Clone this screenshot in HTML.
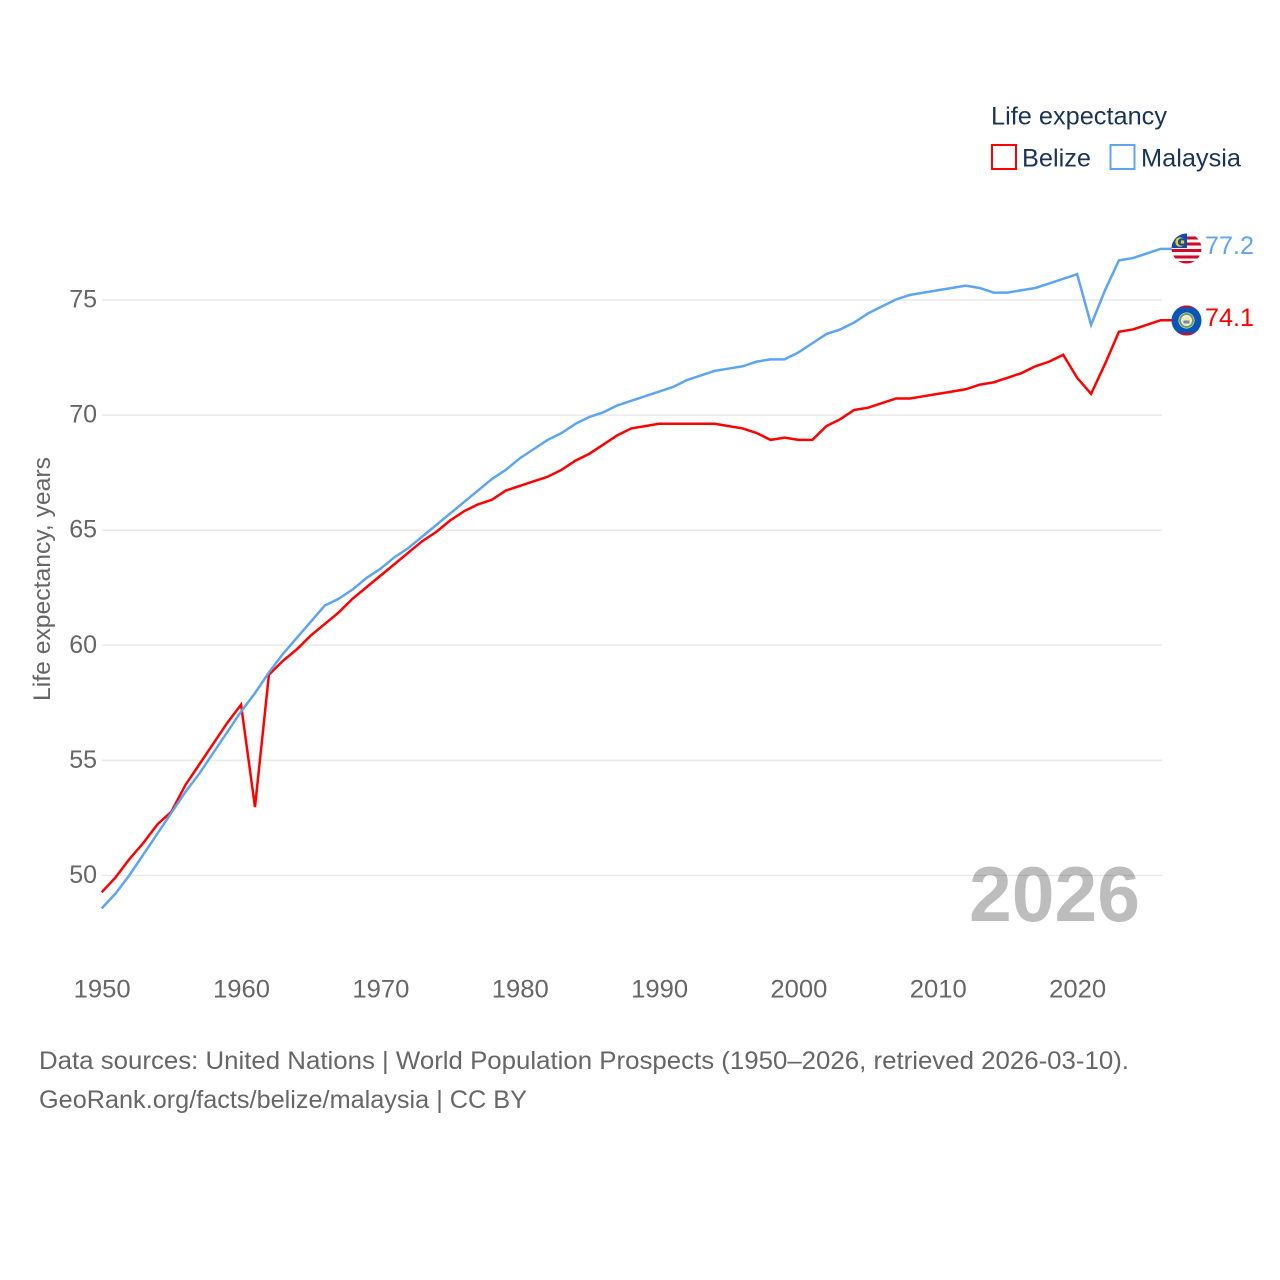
<!DOCTYPE html>
<html>
<head>
<meta charset="utf-8">
<title>Life expectancy: Belize and Malaysia</title>
<style>
html,body{margin:0;padding:0;background:#fff;width:1280px;height:1280px;overflow:hidden}
svg{display:block}
text{font-family:"Liberation Sans",sans-serif}
</style>
</head>
<body>
<svg id="chart" xmlns="http://www.w3.org/2000/svg" width="1280" height="1280" viewBox="0 0 1280 1280">
  <defs>
    <clipPath id="clip-my"><circle cx="1186.500" cy="248.500" r="15"/></clipPath>
    <clipPath id="clip-bz"><circle cx="1186.500" cy="320.500" r="15"/></clipPath>
  </defs>
  <g id="grid"></g>
  <g id="yticks"></g>
  <g id="xticks"></g>
  <text transform="translate(50,701) rotate(-90)" font-size="24" fill="#666666" textLength="244" lengthAdjust="spacingAndGlyphs">Life expectancy, years</text>
  <text x="969" y="921" font-size="78" font-weight="700" fill="#000000" fill-opacity="0.26" textLength="171" lengthAdjust="spacingAndGlyphs">2026</text>
  <g id="series"></g>

  <g>
    <text x="991" y="124.500" font-size="25" fill="#1a3358" textLength="176" lengthAdjust="spacingAndGlyphs">Life expectancy</text>
    <rect x="992" y="145" width="24" height="24" fill="none" stroke="#ff0000" stroke-width="2"/>
    <text x="1022" y="166.500" font-size="25" fill="#1a3358" textLength="69" lengthAdjust="spacingAndGlyphs">Belize</text>
    <rect x="1110.500" y="145" width="24" height="24" fill="none" stroke="#5da5f0" stroke-width="2"/>
    <text x="1141" y="166.500" font-size="25" fill="#1a3358" textLength="100" lengthAdjust="spacingAndGlyphs">Malaysia</text>
  </g>

  <g clip-path="url(#clip-my)">
    <rect x="1171" y="233" width="31" height="31" fill="#f4f4f4"/>
    <rect x="1171" y="236.500" width="31" height="3" fill="#cc0a2c"/>
    <rect x="1171" y="242.500" width="31" height="3" fill="#cc0a2c"/>
    <rect x="1171" y="249" width="31" height="3" fill="#cc0a2c"/>
    <rect x="1171" y="255.500" width="31" height="3" fill="#cc0a2c"/>
    <rect x="1171" y="261" width="31" height="4" fill="#cc0a2c"/>
    <rect x="1171" y="233" width="16" height="15" fill="#0d4ea6"/>
    <circle cx="1180" cy="242" r="4.700" fill="#f7c82c"/>
    <circle cx="1181.500" cy="242" r="3.700" fill="#0d4ea6"/>
    <circle cx="1182.500" cy="242" r="1.800" fill="#f7c82c"/>
  </g>
  <g clip-path="url(#clip-bz)">
    <rect x="1171" y="305" width="31" height="31" fill="#0b55b5"/>
    <rect x="1171" y="305" width="31" height="2.500" fill="#c8102e"/>
    <rect x="1171" y="333" width="31" height="3" fill="#c8102e"/>
    <circle cx="1186.500" cy="320.500" r="8" fill="#e8efe4"/>
    <circle cx="1186.500" cy="320.500" r="6.500" fill="none" stroke="#6fa05a" stroke-width="2"/>
    <circle cx="1186.500" cy="320.500" r="3.600" fill="#f0e6b0"/>
    <rect x="1183.500" y="320.500" width="6" height="3" fill="#7a8a9a"/>
  </g>

  <text x="1205" y="254" font-size="25" fill="#5da5f0" textLength="49" lengthAdjust="spacingAndGlyphs">77.2</text>
  <text x="1205" y="326" font-size="25" fill="#ff0000" textLength="49" lengthAdjust="spacingAndGlyphs">74.1</text>

  <text x="39" y="1069" font-size="25" fill="#666666" textLength="1090" lengthAdjust="spacingAndGlyphs">Data sources: United Nations | World Population Prospects (1950–2026, retrieved 2026-03-10).</text>
  <text x="39" y="1108" font-size="25" fill="#666666" textLength="488" lengthAdjust="spacingAndGlyphs">GeoRank.org/facts/belize/malaysia | CC BY</text>
</svg>
<script>
var startYear = 1950;
var belizeValues = [49.25,49.9,50.7,51.4,52.2,52.75,53.9,54.8,55.7,56.6,57.4,52.95,58.7,59.3,59.8,60.4,60.9,61.4,62.0,62.5,63.0,63.5,64.0,64.5,64.9,65.4,65.8,66.1,66.3,66.7,66.9,67.1,67.3,67.6,68.0,68.3,68.7,69.1,69.4,69.5,69.6,69.6,69.6,69.6,69.6,69.5,69.4,69.2,68.9,69.0,68.9,68.9,69.5,69.8,70.2,70.3,70.5,70.7,70.7,70.8,70.9,71.0,71.1,71.3,71.4,71.6,71.8,72.1,72.3,72.6,71.6,70.9,72.2,73.6,73.7,73.9,74.1];
var malaysiaValues = [48.55,49.2,50.0,50.9,51.8,52.7,53.6,54.4,55.3,56.2,57.1,57.9,58.8,59.6,60.3,61.0,61.7,62.0,62.4,62.9,63.3,63.8,64.2,64.7,65.2,65.7,66.2,66.7,67.2,67.6,68.1,68.5,68.9,69.2,69.6,69.9,70.1,70.4,70.6,70.8,71.0,71.2,71.5,71.7,71.9,72.0,72.1,72.3,72.4,72.4,72.7,73.1,73.5,73.7,74.0,74.4,74.7,75.0,75.2,75.3,75.4,75.5,75.6,75.5,75.3,75.3,75.4,75.5,75.7,75.9,76.1,73.9,75.4,76.7,76.8,77.0,77.2];
var yTickValues = [50,55,60,65,70,75];
var xTickValues = [1950,1960,1970,1980,1990,2000,2010,2020];

var NS = 'http://www.w3.org/2000/svg';
function xScale(year){ return 101.7 + (year - 1950) * 13.935; }
function yScale(value){ return 875 - (value - 50) * 23.02; }
function make(tag, parent){
  var el = document.createElementNS(NS, tag);
  parent.appendChild(el);
  return el;
}
var gridG = document.getElementById('grid');
var yG = document.getElementById('yticks');
var xG = document.getElementById('xticks');
var seriesG = document.getElementById('series');

yTickValues.forEach(function(v){
  var line = make('line', gridG);
  
  
  line.setAttribute('x1', 102);
  line.setAttribute('x2', 1162);
  line.setAttribute('y1', yScale(v) + 0.5);
  line.setAttribute('y2', yScale(v) + 0.5);
  line.setAttribute('stroke', '#e9e9e9');
  line.setAttribute('stroke-width', '1.5');
  var t = make('text', yG);
  
  
  t.setAttribute('x', 97);
  t.setAttribute('y', yScale(v) + 8);
  t.setAttribute('text-anchor', 'end');
  t.setAttribute('font-size', '25');
  t.setAttribute('fill', '#666666');
  t.textContent = String(v);
});

xTickValues.forEach(function(y){
  var t = make('text', xG);
  
  
  t.setAttribute('x', xScale(y) + 0.5);
  t.setAttribute('y', 997.5);
  t.setAttribute('text-anchor', 'middle');
  t.setAttribute('font-size', '25');
  t.setAttribute('fill', '#666666');
  t.setAttribute('textLength', '57');
  t.setAttribute('lengthAdjust', 'spacingAndGlyphs');
  t.textContent = String(y);
});

function drawSeries(values, color){
  var pts = values.map(function(v, i){
    return xScale(startYear + i).toFixed(2) + ',' + yScale(v).toFixed(2);
  });
  var last = values[values.length - 1];
  pts.push('1172,' + yScale(last).toFixed(2));
  var line = make('polyline', seriesG);
  line.setAttribute('points', pts.join(' '));
  line.setAttribute('fill', 'none');
  line.setAttribute('stroke', color);
  line.setAttribute('stroke-width', '2.5');
  line.setAttribute('stroke-linejoin', 'miter');
  return line;
}
var belizeLine = drawSeries(belizeValues, '#ff0000');


var malaysiaLine = drawSeries(malaysiaValues, '#5da5f0');


</script>
</body>
</html>
